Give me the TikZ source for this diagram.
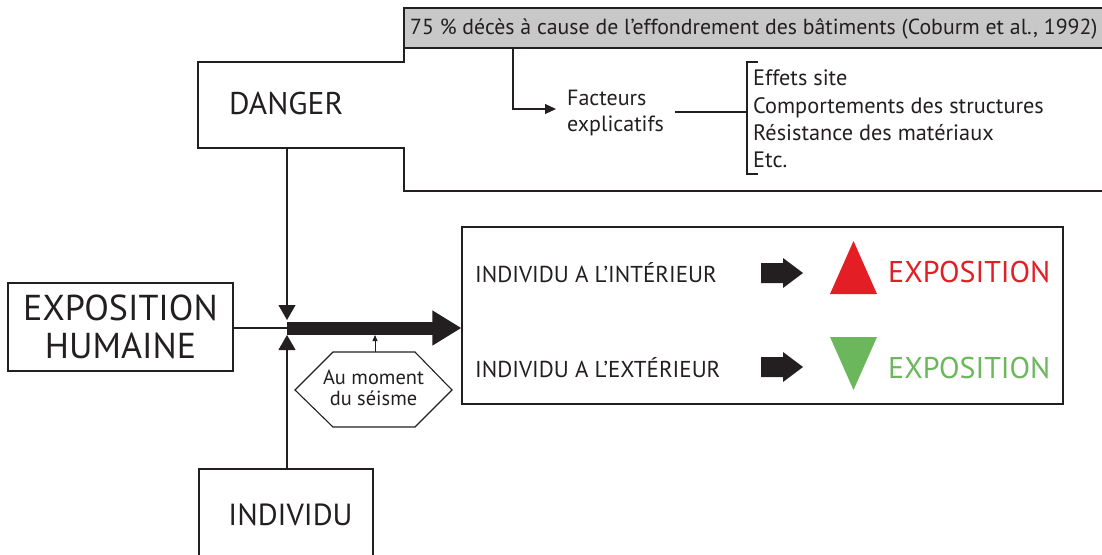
\documentclass[tikz,border=0pt]{standalone}
\usepackage{fontspec}
\setmainfont{PT Sans}
\usetikzlibrary{arrows.meta}
\definecolor{ink}{HTML}{231F20}
\definecolor{boxgray}{HTML}{C8C8C8}
\definecolor{upred}{HTML}{E31E24}
\definecolor{downgreen}{HTML}{6BB85C}
\tikzset{
  wire/.style={draw=ink, line width=1.1pt},
  fsz/.style={font=\fontsize{#1}{#1}\selectfont},
  txt/.style={inner sep=0pt, text=ink},
  tinyhead/.style={-{Triangle[width=10pt,length=11pt]}},
  bighead/.style={-{Triangle[width=17pt,length=15pt]}},
}
\begin{document}
\begin{tikzpicture}[x=1pt,y=-1pt]
\useasboundingbox (0,0) rectangle (1102,554);

% citation banner
\fill[boxgray] (404,8) rectangle (1102,48);
\draw[wire] (1102,8) -- (404,8) -- (404,48) -- (1102,48);
\node[txt, fsz=21.8, anchor=west] (cite) at (410,29)
  {75 \% décès à cause de l’effondrement des bâtiments (Coburm et al., 1992)};

% hazard frame
\draw[wire] (1102,48) -- (404,48) -- (404,62) -- (198,62) -- (198,148)
  -- (404,148) -- (404,191) -- (1102,191);
\node[txt, fsz=31.4, anchor=west] (danger) at (229,104) {DANGER};
\coordinate (dangerfoot) at (287,148);
\coordinate (citefoot) at (513,48);

% explanatory factors
\node[txt, fsz=22, anchor=west, align=left] (facteurs) at (567,113)
  {Facteurs\\[4pt]explicatifs};
\coordinate (factin) at (556,109);
\draw[wire, tinyhead] (citefoot) |- (factin);
\coordinate (factout) at (675,112);
\coordinate (brk) at (747,112);
\draw[wire] (factout) -- (brk);
\draw[wire] (758,62) -- (747,62) -- (747,174) -- (758,174);
\node[txt, fsz=22.3, anchor=base west] (f1) at (753,85) {Effets site};
\node[txt, fsz=22.3, anchor=base west] (f2) at (753,113) {Comportements des structures};
\node[txt, fsz=22.3, anchor=base west] (f3) at (753,140) {Résistance des matériaux};
\node[txt, fsz=22.3, anchor=base west] (f4) at (753,167) {Etc.};

% human exposure
\node[wire, txt, fsz=36, minimum width=225pt, minimum height=88pt, align=center]
  (expo) at (120.5,327) {EXPOSITION\\[2pt]HUMAINE};
\coordinate (junc) at (287,328);
\draw[wire] (expo.east |- junc) -- (junc);

% individual
\draw[wire] (199,560) -- (199,469) -- (373,469) -- (373,560);
\node[txt, fsz=30.5] (individu) at (290.5,515) {INDIVIDU};
\coordinate (indtop) at (287,469);

\draw[wire, bighead] (dangerfoot) -- (287,320);
\draw[wire, bighead] (indtop) -- (287,335);

% result box
\node[wire, minimum width=601pt, minimum height=177pt, inner sep=0pt]
  (result) at (762.5,315.5) {};
\draw[ink, line width=13pt, -{Triangle[width=33pt,length=29pt]}]
  (junc) -- (result.west |- junc);

% moment of the earthquake
\draw[wire] (295,390) -- (333,352) -- (415,352) -- (452,390) -- (415,427)
  -- (333,427) -- cycle;
\node[txt, fsz=20.4, align=center] (moment) at (373.5,388)
  {Au moment\\[1pt]du séisme};
\coordinate (hextop) at (375,352);
\draw[wire, line width=0.8pt, -{Triangle[width=5pt,length=6pt]}]
  (hextop) -- (375,335);

% inside / outside
\node[txt, fsz=23, anchor=west] (inside) at (475,273) {INDIVIDU A L’INTÉRIEUR};
\node[txt, fsz=23, anchor=west] (outside) at (475,368) {INDIVIDU A L’EXTÉRIEUR};
\fill[ink] (761,263) -- (783,263) -- (783,258) -- (803,273) -- (783,288)
  -- (783,283) -- (761,283) -- cycle;
\fill[ink] (761,357) -- (783,357) -- (783,352) -- (803,367) -- (783,382)
  -- (783,377) -- (761,377) -- cycle;
\fill[upred] (830,294) -- (853.5,241) -- (877,294) -- cycle;
\fill[downgreen] (830,337) -- (877,337) -- (853.5,390) -- cycle;
\node[txt, fsz=30, text=upred, anchor=west] (up) at (888,272) {EXPOSITION};
\node[txt, fsz=30, text=downgreen, anchor=west] (down) at (888,368) {EXPOSITION};
\end{tikzpicture}
\end{document}
